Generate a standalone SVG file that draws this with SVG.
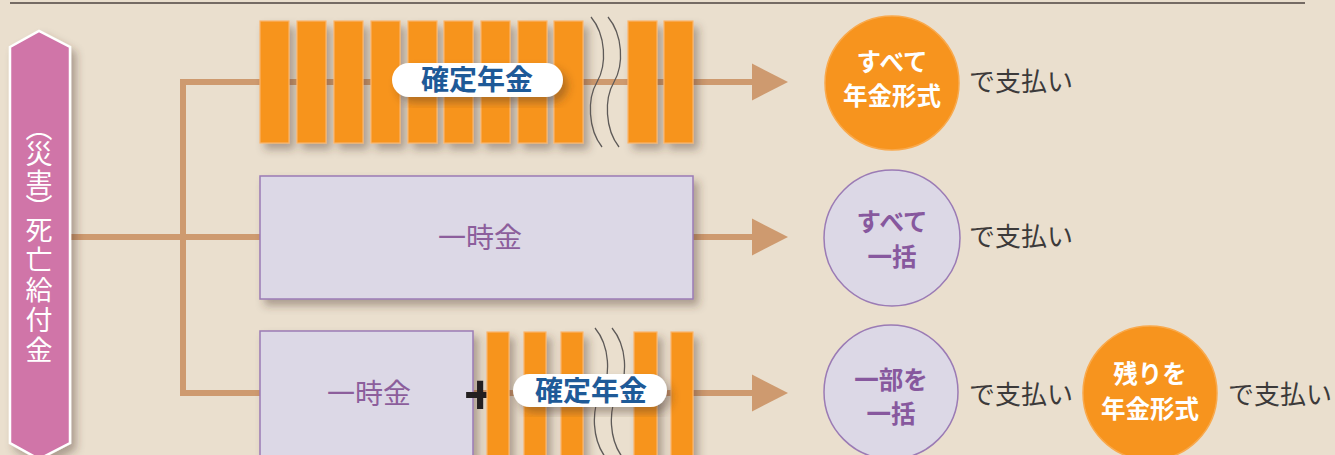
<svg xmlns="http://www.w3.org/2000/svg" width="1335" height="455" viewBox="0 0 1335 455">
<style>
.jp{font-family:"Noto Sans CJK JP","Noto Sans",sans-serif}
.bar{fill:#F7941E;stroke:#FBB46A;stroke-width:1.2}
.lav{fill:#DCD8E6;stroke:#9B7BB5;stroke-width:1.5}
.pill{fill:#FFFFFF}
.lbl{font-size:28px;font-weight:700;fill:#1E5A98;text-anchor:middle}
.ichiji{font-size:28px;font-weight:400;fill:#8C5E9C;text-anchor:middle}
.cw{font-size:24.5px;font-weight:700;fill:#FFFFFF;text-anchor:middle}
.cp{font-size:24.5px;font-weight:700;fill:#87589E;text-anchor:middle}
.pay{font-size:26px;font-weight:400;fill:#3C3A3A}
.conn{fill:none;stroke:#CE9A6F;stroke-width:6}
.sq{fill:none;stroke:#5E5A58;stroke-width:1.3}
</style>
<defs>
<filter id="sh" x="-30%" y="-20%" width="160%" height="150%">
<feDropShadow dx="5" dy="6" stdDeviation="4" flood-color="#4a3320" flood-opacity="0.38"/>
</filter>
<marker id="arr" markerUnits="userSpaceOnUse" markerWidth="36" markerHeight="38" viewBox="0 0 35 36" refX="0" refY="18" orient="auto">
<path d="M0,0 L35,18 L0,36 Z" fill="#CE9A6F"/>
</marker>
</defs>
<rect width="1335" height="455" fill="#EADFCE"/>
<line x1="10" y1="3" x2="1305" y2="3" stroke="#4E4540" stroke-width="1.5"/>

<g id="connectors">
<path class="conn" d="M70,237 H752" marker-end="url(#arr)"/>
<path class="conn" d="M183,237 V82 H752" marker-end="url(#arr)"/>
<path class="conn" d="M183,237 V393 H752" marker-end="url(#arr)"/>
</g>

<g id="source">
<polygon points="10,47 39,31 70,47 70,443 39,459 10,443" fill="#D075A8" stroke="#FFFFFF" stroke-width="2.5" filter="url(#sh)"/>
<text class="jp" x="39" y="114 140 169 194 216 246 276 306 336" font-size="27" fill="#FFFFFF" style="writing-mode:vertical-rl">（災害）死亡給付金</text>
</g>

<g id="annuity">
<g filter="url(#sh)">
<rect class="bar" x="260" y="21" width="29" height="122"/>
<rect class="bar" x="297" y="21" width="29" height="122"/>
<rect class="bar" x="334" y="21" width="29" height="122"/>
<rect class="bar" x="371" y="21" width="29" height="122"/>
<rect class="bar" x="408" y="21" width="29" height="122"/>
<rect class="bar" x="444" y="21" width="29" height="122"/>
<rect class="bar" x="481" y="21" width="29" height="122"/>
<rect class="bar" x="518" y="21" width="29" height="122"/>
<rect class="bar" x="554" y="21" width="29" height="122"/>
<rect class="bar" x="628" y="21" width="29" height="122"/>
<rect class="bar" x="664" y="21" width="29" height="122"/>
</g>
<path class="sq" d="M591,17 C606,35 607,65 597,82 C587,99 588,129 602,147"/>
<path class="sq" d="M608,17 C623,35 624,65 614,82 C604,99 605,129 619,147"/>
<rect class="pill" x="392" y="63" width="171" height="34" rx="17" filter="url(#sh)"/>
<text class="jp lbl" x="477" y="90">確定年金</text>
</g>

<g id="lumpsum">
<rect class="lav" x="260" y="176" width="433" height="123" filter="url(#sh)"/>
<text class="jp ichiji" x="480" y="248">一時金</text>
</g>

<g id="mixed">
<rect class="lav" x="260" y="331" width="213" height="140" filter="url(#sh)"/>
<text class="jp ichiji" x="369" y="404">一時金</text>
<text x="480" y="413" font-family="Liberation Sans, Arial, sans-serif" font-weight="700" font-size="56" fill="#231F20" text-anchor="middle">+</text>
<g filter="url(#sh)">
<rect class="bar" x="487" y="332" width="22" height="140"/>
<rect class="bar" x="524" y="332" width="22" height="140"/>
<rect class="bar" x="561" y="332" width="22" height="140"/>
<rect class="bar" x="634" y="332" width="23" height="140"/>
<rect class="bar" x="671" y="332" width="22" height="140"/>
</g>
<path class="sq" d="M595,328 C610,346 611,376 601,393 C591,410 592,440 606,458"/>
<path class="sq" d="M612,328 C627,346 628,376 618,393 C608,410 609,440 623,458"/>
<rect class="pill" x="513" y="374" width="154" height="33" rx="16.5" filter="url(#sh)"/>
<text class="jp lbl" x="591" y="401">確定年金</text>
</g>

<g id="result1">
<circle cx="892" cy="83" r="67" fill="#F7941E" stroke="#F9A94C" stroke-width="1.5"/>
<text class="jp cw" x="892" y="71">すべて</text>
<text class="jp cw" x="892" y="105">年金形式</text>
<text class="jp pay" x="969" y="91">で支払い</text>
</g>

<g id="result2">
<circle class="lav" cx="892" cy="238" r="68"/>
<text class="jp cp" x="892" y="231">すべて</text>
<text class="jp cp" x="892" y="266">一括</text>
<text class="jp pay" x="969" y="246">で支払い</text>
</g>

<g id="result3">
<ellipse class="lav" cx="891" cy="392" rx="67" ry="67"/>
<text class="jp cp" x="891" y="389">一部を</text>
<text class="jp cp" x="891" y="423">一括</text>
<text class="jp pay" x="969" y="404">で支払い</text>
<circle cx="1150" cy="393" r="67" fill="#F7941E" stroke="#F9A94C" stroke-width="1.5"/>
<text class="jp cw" x="1150" y="383">残りを</text>
<text class="jp cw" x="1150" y="418">年金形式</text>
<text class="jp pay" x="1228" y="404">で支払い</text>
</g>
</svg>
